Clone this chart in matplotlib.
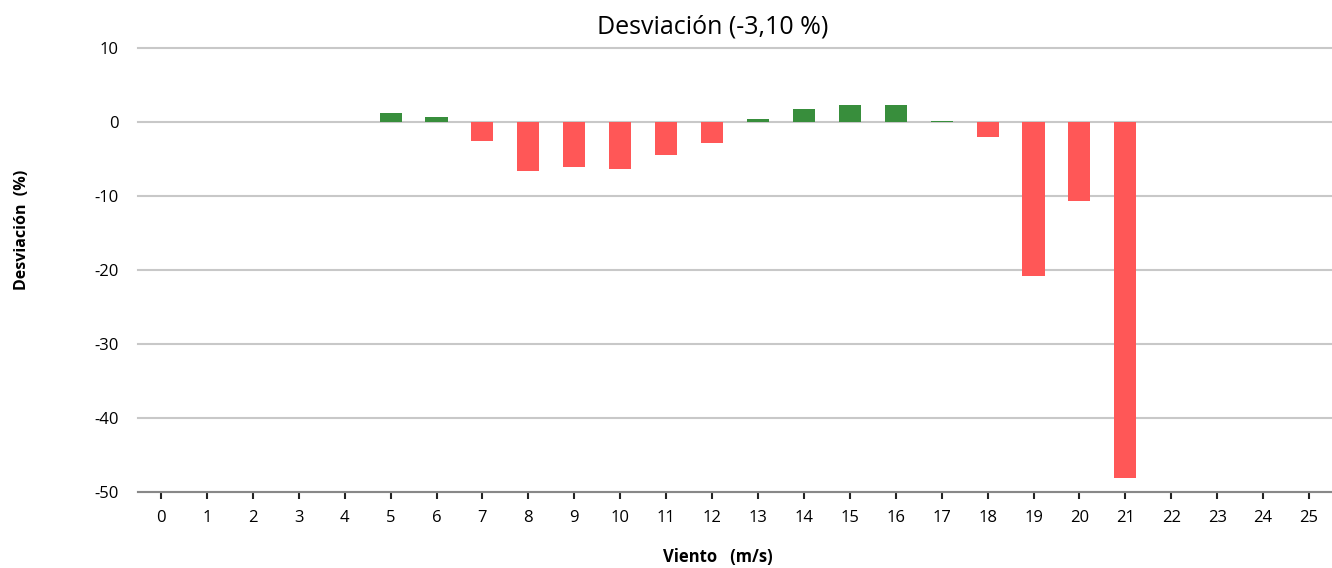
import matplotlib.pyplot as plt
import numpy as np

# wind speed bins (m/s) and deviation (%)
viento = list(range(0, 26))
desviacion = [0, 0, 0, 0, 0, 1.26, 0.72, -2.5, -6.6, -6.05, -6.3, -4.4, -2.8,
              0.45, 1.8, 2.35, 2.35, 0.2, -2.0, -20.8, -10.65, -48.1, 0, 0, 0, 0]
titulo = "Desviación (-3,10 %)"

verde = '#388e3c'
rojo = '#ff5757'
colores = [verde if v >= 0 else rojo for v in desviacion]

plt.rcParams['font.family'] = ['Open Sans', 'DejaVu Sans']
plt.rcParams['axes.unicode_minus'] = False

fig = plt.figure(figsize=(13.32, 5.68), dpi=100)
ax = fig.add_axes([138/1332, 76/568, 1 - 138/1332, (492 - 48.5)/568])

ax.bar(viento, desviacion, width=0.48, color=colores, zorder=3)

ax.set_xlim(-0.5, 25.5)
ax.set_ylim(-50, 10)
ax.set_yticks(np.arange(-50, 11, 10))
ax.set_xticks(viento)
ax.set_xticklabels([str(v) for v in viento])

ax.grid(axis='y', color='#c8c8c8', linewidth=1.5, zorder=0)
for gl in ax.get_ygridlines():
    gl.set_clip_on(False)
for s in ['top', 'right', 'left']:
    ax.spines[s].set_visible(False)
ax.spines['bottom'].set_color('#888888')
ax.spines['bottom'].set_linewidth(1.5)
ax.tick_params(axis='x', length=5, width=1.5, color='#222222', labelsize=12, pad=8)
ax.tick_params(axis='y', length=0, labelsize=12, pad=14)

fig.text(713/1332, 1 - 27/568, titulo, ha='center', va='center', fontsize=18)
fig.text(22/1332, 1 - 230/568, "Desviación  (%)", rotation=90, ha='center', va='center',
         fontsize=11.5, fontweight='bold')
fig.text(718/1332, 1 - 557/568, "Viento   (m/s)", ha='center', va='center',
         fontsize=12, fontweight='bold')

fig.savefig('out.png', dpi=100)
